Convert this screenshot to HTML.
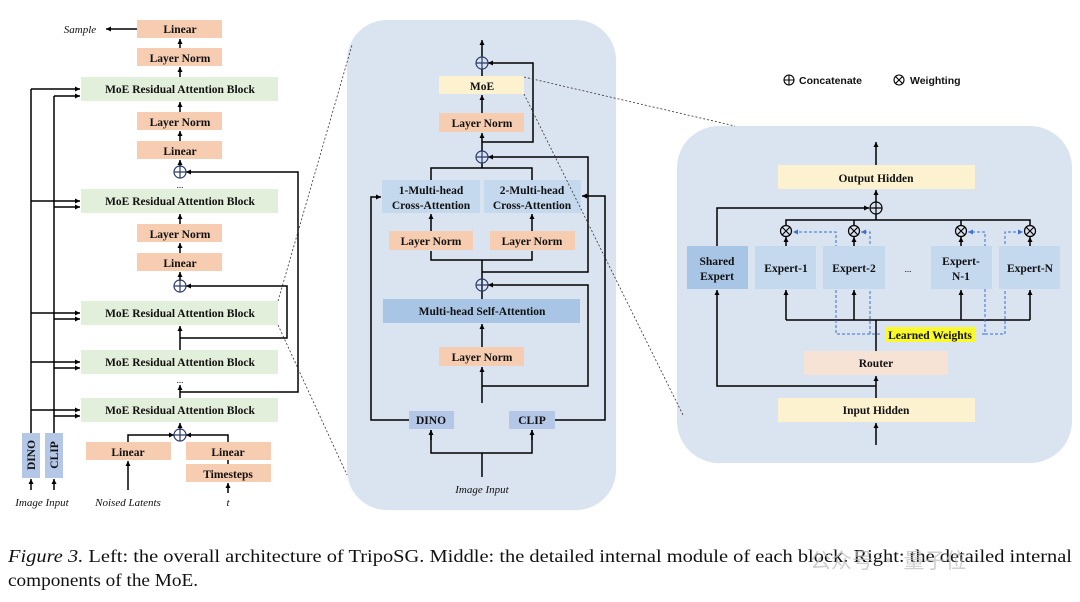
<!DOCTYPE html>
<html><head><meta charset="utf-8"><style>
html,body{margin:0;padding:0;background:#fff;}
svg{display:block;}
text{font-family:"Liberation Serif",serif;font-weight:bold;font-size:11.5px;fill:#111;}
.it{font-style:italic;font-weight:normal;}
.cap{font-weight:normal;font-size:17.5px;}
</style></head><body>
<svg width="1080" height="602" viewBox="0 0 1080 602" xmlns="http://www.w3.org/2000/svg">
<defs>
<marker id="a" markerWidth="6" markerHeight="6" refX="5" refY="3" orient="auto" markerUnits="userSpaceOnUse"><path d="M0,0.5 L5,3 L0,5.5z" fill="#000"/></marker>
<marker id="b" markerWidth="6" markerHeight="6" refX="5" refY="3" orient="auto" markerUnits="userSpaceOnUse"><path d="M0,0.5 L5,3 L0,5.5z" fill="#3a6fd8"/></marker>
</defs>
<g stroke="#000" stroke-width="1.5" fill="none">
<line x1="180" y1="48" x2="180" y2="39" marker-end="url(#a)"/>
<line x1="180" y1="77" x2="180" y2="67" marker-end="url(#a)"/>
<line x1="180" y1="112" x2="180" y2="102" marker-end="url(#a)"/>
<line x1="180" y1="141" x2="180" y2="131" marker-end="url(#a)"/>
<line x1="180" y1="167" x2="180" y2="160" marker-end="url(#a)"/>
<line x1="180" y1="224" x2="180" y2="214" marker-end="url(#a)"/>
<line x1="180" y1="253" x2="180" y2="243" marker-end="url(#a)"/>
<line x1="180" y1="281" x2="180" y2="272" marker-end="url(#a)"/>
<line x1="180" y1="350" x2="180" y2="326" marker-end="url(#a)"/>
<line x1="180" y1="398" x2="180" y2="385" marker-end="url(#a)"/>
<line x1="180" y1="430" x2="180" y2="423" marker-end="url(#a)"/>
<line x1="137" y1="29" x2="106" y2="29" marker-end="url(#a)"/>
<polyline points="180,338 287,338 287,286 186,286" marker-end="url(#a)"/>
<polyline points="180,392 298,392 298,172 186,172" marker-end="url(#a)"/>
<polyline points="128,442 128,435 174,435" marker-end="url(#a)"/>
<polyline points="228,442 228,435 186,435" marker-end="url(#a)"/>
<line x1="228" y1="460" x2="228" y2="464"/>
<line x1="128" y1="490" x2="128" y2="461" marker-end="url(#a)"/>
<line x1="228" y1="493" x2="228" y2="483" marker-end="url(#a)"/>
<line x1="31" y1="490" x2="31" y2="479" marker-end="url(#a)"/>
<line x1="54" y1="490" x2="54" y2="479" marker-end="url(#a)"/>
<line x1="31" y1="433" x2="31" y2="89"/>
<line x1="54" y1="433" x2="54" y2="96"/>
<line x1="31" y1="89" x2="80" y2="89" marker-end="url(#a)"/>
<line x1="54" y1="96" x2="80" y2="96" marker-end="url(#a)"/>
<line x1="31" y1="201" x2="80" y2="201" marker-end="url(#a)"/>
<line x1="54" y1="207" x2="80" y2="207" marker-end="url(#a)"/>
<line x1="31" y1="313" x2="80" y2="313" marker-end="url(#a)"/>
<line x1="54" y1="319" x2="80" y2="319" marker-end="url(#a)"/>
<line x1="31" y1="362" x2="80" y2="362" marker-end="url(#a)"/>
<line x1="54" y1="368" x2="80" y2="368" marker-end="url(#a)"/>
<line x1="31" y1="410" x2="80" y2="410" marker-end="url(#a)"/>
<line x1="54" y1="416" x2="80" y2="416" marker-end="url(#a)"/>
</g>
<g stroke="none">
<rect x="137" y="20" width="85" height="18" fill="#f6cdb0"/>
<rect x="137" y="48" width="85" height="18" fill="#f6cdb0"/>
<rect x="81" y="77" width="197" height="24" fill="#e2efda"/>
<rect x="137" y="112" width="85" height="18" fill="#f6cdb0"/>
<rect x="137" y="141" width="85" height="18" fill="#f6cdb0"/>
<rect x="81" y="189" width="197" height="24" fill="#e2efda"/>
<rect x="137" y="224" width="85" height="18" fill="#f6cdb0"/>
<rect x="137" y="253" width="85" height="18" fill="#f6cdb0"/>
<rect x="81" y="301" width="197" height="24" fill="#e2efda"/>
<rect x="81" y="350" width="197" height="24" fill="#e2efda"/>
<rect x="81" y="398" width="197" height="24" fill="#e2efda"/>
<rect x="86" y="442" width="85" height="18" fill="#f6cdb0"/>
<rect x="186" y="442" width="85" height="18" fill="#f6cdb0"/>
<rect x="186" y="464" width="85" height="18" fill="#f6cdb0"/>
<rect x="22" y="433" width="18" height="45" fill="#b4c7e7"/>
<rect x="45" y="433" width="18" height="45" fill="#b4c7e7"/>
</g>
<g text-anchor="middle">
<text x="180" y="33">Linear</text>
<text x="180" y="62">Layer Norm</text>
<text x="180" y="93">MoE Residual Attention Block</text>
<text x="180" y="126">Layer Norm</text>
<text x="180" y="155">Linear</text>
<text x="180" y="205">MoE Residual Attention Block</text>
<text x="180" y="238">Layer Norm</text>
<text x="180" y="267">Linear</text>
<text x="180" y="317">MoE Residual Attention Block</text>
<text x="180" y="366">MoE Residual Attention Block</text>
<text x="180" y="414">MoE Residual Attention Block</text>
<text x="128" y="456">Linear</text>
<text x="228" y="456">Linear</text>
<text x="228" y="478">Timesteps</text>
<text x="180" y="188" style="font-weight:normal;font-size:9px">...</text>
<text x="180" y="383" style="font-weight:normal;font-size:9px">...</text>
<text class="it" x="80" y="33" style="font-size:11px">Sample</text>
<text class="it" x="42" y="506" style="font-size:11px">Image Input</text>
<text class="it" x="128" y="506" style="font-size:11px">Noised Latents</text>
<text class="it" x="228" y="506" style="font-size:11px">t</text>
<text transform="translate(35,455) rotate(-90)">DINO</text>
<text transform="translate(58,455) rotate(-90)">CLIP</text>
</g>
<g stroke="#2a3a6a" stroke-width="1.2" fill="none">
<circle cx="180" cy="172" r="6"/><path d="M174,172h12M180,166v12"/>
<circle cx="180" cy="286" r="6"/><path d="M174,286h12M180,280v12"/>
<circle cx="180" cy="435" r="6"/><path d="M174,435h12M180,429v12"/>
</g>
<!-- MIDDLE -->
<rect x="347" y="20" width="269" height="490" rx="40" fill="#dae3f0"/>
<g stroke="#000" stroke-width="1.5" fill="none">
<line x1="482" y1="57" x2="482" y2="40" marker-end="url(#a)"/>
<line x1="482" y1="76" x2="482" y2="69"/>
<line x1="482" y1="113" x2="482" y2="95" marker-end="url(#a)"/>
<line x1="482" y1="151" x2="482" y2="133" marker-end="url(#a)"/>
<polyline points="482,142 533,142 533,63 488,63" marker-end="url(#a)"/>
<polyline points="431,180 431,168 532,168 532,180"/>
<line x1="482" y1="168" x2="482" y2="163"/>
<polyline points="482,272 588,272 588,157 488,157" marker-end="url(#a)"/>
<line x1="431" y1="231" x2="431" y2="214" marker-end="url(#a)"/>
<line x1="532" y1="231" x2="532" y2="214" marker-end="url(#a)"/>
<polyline points="431,251 431,260 532,260 532,251"/>
<line x1="482" y1="260" x2="482" y2="291"/>
<line x1="482" y1="299" x2="482" y2="291"/>
<line x1="482" y1="347" x2="482" y2="324" marker-end="url(#a)"/>
<line x1="482" y1="403" x2="482" y2="367" marker-end="url(#a)"/>
<polyline points="482,386 588,386 588,285 488,285" marker-end="url(#a)"/>
<polyline points="409,420 371,420 371,197 381,197" marker-end="url(#a)"/>
<polyline points="555,420 605,420 605,196 582,196" marker-end="url(#a)"/>
<polyline points="431,430 431,453 532,453 532,430"/>
<line x1="431" y1="440" x2="431" y2="430" marker-end="url(#a)"/>
<line x1="532" y1="440" x2="532" y2="430" marker-end="url(#a)"/>
<line x1="482" y1="477" x2="482" y2="453"/>
</g>
<g stroke="none">
<rect x="439" y="76" width="85" height="18" fill="#fdf2d0"/>
<rect x="439" y="113" width="85" height="19" fill="#f6cdb0"/>
<rect x="382" y="180" width="98" height="33" fill="#c5d9ee"/>
<rect x="484" y="180" width="97" height="33" fill="#c5d9ee"/>
<rect x="389" y="231" width="84" height="19" fill="#f6cdb0"/>
<rect x="490" y="231" width="85" height="19" fill="#f6cdb0"/>
<rect x="383" y="299" width="197" height="24" fill="#a9c5e6"/>
<rect x="439" y="347" width="85" height="19" fill="#f6cdb0"/>
<rect x="409" y="411" width="45" height="18" fill="#b4c7e7"/>
<rect x="509" y="411" width="46" height="18" fill="#b4c7e7"/>
</g>
<g text-anchor="middle">
<text x="482" y="90">MoE</text>
<text x="482" y="127">Layer Norm</text>
<text x="431" y="194">1-Multi-head</text>
<text x="431" y="209">Cross-Attention</text>
<text x="532" y="194">2-Multi-head</text>
<text x="532" y="209">Cross-Attention</text>
<text x="431" y="245">Layer Norm</text>
<text x="532" y="245">Layer Norm</text>
<text x="482" y="315">Multi-head Self-Attention</text>
<text x="482" y="361">Layer Norm</text>
<text x="431" y="424">DINO</text>
<text x="532" y="424">CLIP</text>
<text class="it" x="482" y="493" style="font-size:11px">Image Input</text>
</g>
<g stroke="#2a3a6a" stroke-width="1.2" fill="none">
<circle cx="482" cy="63" r="6"/><path d="M476,63h12M482,57v12"/>
<circle cx="482" cy="157" r="6"/><path d="M476,157h12M482,151v12"/>
<circle cx="482" cy="285" r="6"/><path d="M476,285h12M482,279v12"/>
</g>
<g stroke="#000" stroke-width="1.1" fill="none">
<circle cx="789" cy="80" r="5"/><path d="M784,80h10M789,75v10"/>
<circle cx="899" cy="80" r="5"/><path d="M895.5,76.5l7,7M902.5,76.5l-7,7"/>
</g>
<text x="799" y="84" style="font-family:'Liberation Sans',sans-serif;font-size:10.5px">Concatenate</text>
<text x="910" y="84" style="font-family:'Liberation Sans',sans-serif;font-size:10.5px">Weighting</text>
<!-- RIGHT -->
<rect x="677" y="126" width="395" height="337" rx="42" fill="#dae3f0"/>
<!-- zoom dashed lines -->
<g stroke="#333" stroke-width="0.8" stroke-dasharray="2,2" fill="none">
<line x1="278" y1="301" x2="352" y2="45"/>
<line x1="278" y1="325" x2="347" y2="475"/>
<line x1="524" y1="77" x2="735" y2="126"/>
<line x1="524" y1="94" x2="683" y2="415"/>
</g>
<g stroke="#000" stroke-width="1.5" fill="none">
<line x1="876" y1="165" x2="876" y2="142" marker-end="url(#a)"/>
<line x1="876" y1="202" x2="876" y2="190" marker-end="url(#a)"/>
<polyline points="717,246 717,208 869,208" marker-end="url(#a)"/>
<line x1="876" y1="220" x2="876" y2="214"/>
<polyline points="786,226 786,220 1030,220 1030,226"/>
<line x1="854" y1="220" x2="854" y2="226"/>
<line x1="961" y1="220" x2="961" y2="226"/>
<line x1="786" y1="246" x2="786" y2="237" marker-end="url(#a)"/>
<line x1="854" y1="246" x2="854" y2="237" marker-end="url(#a)"/>
<line x1="961" y1="246" x2="961" y2="237" marker-end="url(#a)"/>
<line x1="1030" y1="246" x2="1030" y2="237" marker-end="url(#a)"/>
<polyline points="786,320 1030,320"/>
<line x1="786" y1="320" x2="786" y2="290" marker-end="url(#a)"/>
<line x1="854" y1="320" x2="854" y2="290" marker-end="url(#a)"/>
<line x1="961" y1="320" x2="961" y2="290" marker-end="url(#a)"/>
<line x1="1030" y1="320" x2="1030" y2="290" marker-end="url(#a)"/>
<line x1="876" y1="351" x2="876" y2="320"/>
<line x1="876" y1="398" x2="876" y2="376" marker-end="url(#a)"/>
<polyline points="876,386 717,386 717,290" marker-end="url(#a)"/>
<line x1="876" y1="445" x2="876" y2="423" marker-end="url(#a)"/>
</g>
<g stroke="#3a6fd8" stroke-width="1" stroke-dasharray="3,2" fill="none">
<polyline points="880,334 836,334 836,232 793,232" marker-end="url(#b)"/>
<polyline points="870,334 870,232 861,232" marker-end="url(#b)"/>
<polyline points="982,334 985,334 985,232 968,232" marker-end="url(#b)"/>
<polyline points="985,334 1005,334 1005,232 1023,232" marker-end="url(#b)"/>
</g>
<g stroke="none">
<rect x="778" y="165" width="197" height="24" fill="#fdf2d0"/>
<rect x="687" y="246" width="61" height="43" fill="#a9c5e6"/>
<rect x="755" y="246" width="61" height="43" fill="#c5d9ee"/>
<rect x="823" y="246" width="62" height="43" fill="#c5d9ee"/>
<rect x="931" y="246" width="61" height="43" fill="#c5d9ee"/>
<rect x="999" y="246" width="61" height="43" fill="#c5d9ee"/>
<rect x="804" y="351" width="144" height="24" fill="#f7e3d6"/>
<rect x="778" y="398" width="197" height="24" fill="#fdf2d0"/>
<rect x="885" y="327" width="90" height="15" fill="#fafa2a"/>
</g>
<g text-anchor="middle">
<text x="876" y="182">Output Hidden</text>
<text x="717" y="265">Shared</text>
<text x="717" y="280">Expert</text>
<text x="786" y="272">Expert-1</text>
<text x="854" y="272">Expert-2</text>
<text x="908" y="272" style="font-weight:normal;font-size:9px">...</text>
<text x="961" y="265">Expert-</text>
<text x="961" y="280">N-1</text>
<text x="1030" y="272">Expert-N</text>
<text x="930" y="339">Learned Weights</text>
<text x="876" y="367">Router</text>
<text x="876" y="414">Input Hidden</text>
</g>
<g stroke="#000" stroke-width="1.2" fill="#dae3f0">
<circle cx="876" cy="208" r="6"/><path d="M870,208h12M876,202v12" fill="none"/>
<circle cx="786" cy="231" r="5.5"/><path d="M782,227l8,8M790,227l-8,8" fill="none"/>
<circle cx="854" cy="231" r="5.5"/><path d="M850,227l8,8M858,227l-8,8" fill="none"/>
<circle cx="961" cy="231" r="5.5"/><path d="M957,227l8,8M965,227l-8,8" fill="none"/>
<circle cx="1030" cy="231" r="5.5"/><path d="M1026,227l8,8M1034,227l-8,8" fill="none"/>
</g>
<text class="cap" x="8" y="562" textLength="1064" lengthAdjust="spacingAndGlyphs"><tspan font-style="italic">Figure 3.</tspan> Left: the overall architecture of TripoSG. Middle: the detailed internal module of each block. Right: the detailed internal</text>
<text class="cap" x="8" y="586" textLength="190" lengthAdjust="spacingAndGlyphs">components of the MoE.</text>
<text x="810" y="568" style="font-family:'Noto Sans CJK SC',sans-serif;font-weight:normal;font-size:21px;fill:#bbb;opacity:0.7">公众号 · 量子位</text>
</svg>
</body></html>
